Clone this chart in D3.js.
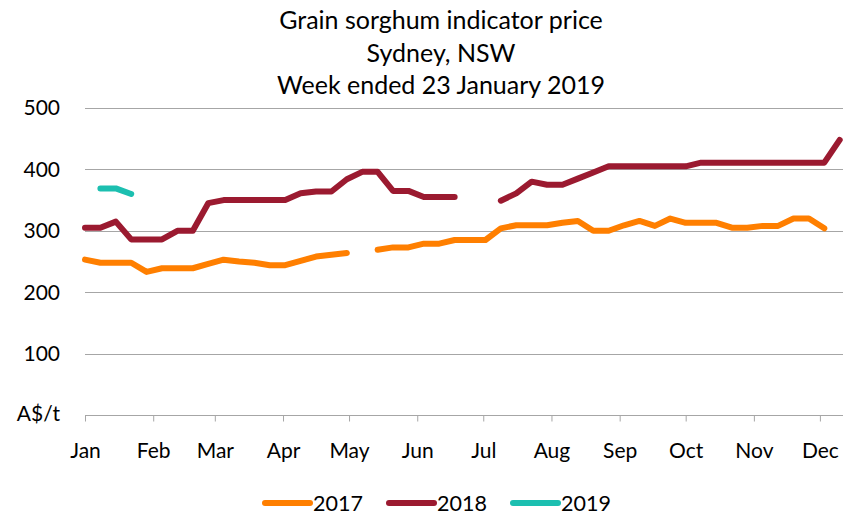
<!DOCTYPE html>
<html>
<head>
<meta charset="utf-8">
<script src="https://cdn.jsdelivr.net/npm/d3@7"></script>
<style>
  body { margin: 0; background: #fff; }
  svg { display: block; font-family: "Lato", "Open Sans", sans-serif; }
</style>
</head>
<body>
<script>
// weekly indicator price, A$/t (null = no quote that week)
const titleLines = ["Grain sorghum indicator price", "Sydney, NSW", "Week ended 23 January 2019"];
const yTicks = [100, 200, 300, 400, 500];
const seriesNames = ["2017", "2018", "2019"];
const colors = ["#ff7f00", "#9b1a30", "#1cbfb0"];

const price2017 = [253, 248, 248, 248, 233, 239, 239, 239, 246, 253,
                   250, 248, 244, 244, 251, 258, 261, 264, null, 269,
                   273, 273, 279, 279, 285, 285, 285, 304, 309, 309,
                   309, 313, 316, 300, 300, 309, 316, 308, 320, 313,
                   313, 313, 305, 305, 308, 308, 320, 320, 304];
const price2018 = [305, 305, 315, 286, 286, 286, 300, 300, 345, 350,
                   350, 350, 350, 350, 361, 364, 364, 384, 396, 396,
                   365, 365, 355, 355, 355, null, null, 349, 361, 380,
                   375, 375, 385, 395, 405, 405, 405, 405, 405, 405,
                   411, 411, 411, 411, 411, 411, 411, 411, 411, 448];
const price2019 = [null, 369, 369, 360];

const w = 843;
const h = 518;

const svg = d3.select("body")
              .append("svg")
              .attr("width", w)
              .attr("height", h);

const start = new Date(2018, 0, 1);
const xScale = d3.scaleTime()
                 .domain([start, new Date(2018, 11, 11, 12)])
                 .range([85, 843]);

const yScale = d3.scaleLinear()
                 .domain([0, 500])
                 .range([415, 108]);

// title
svg.append("g")
   .selectAll("text")
   .data(titleLines)
   .enter()
   .append("text")
   .attr("x", 441)
   .attr("y", (d, i) => 29 + i * 32.5)
   .attr("text-anchor", "middle")
   .attr("font-size", 25)
   .attr("fill", "#000")
   .text((d) => d);

// gridlines
svg.append("g")
   .selectAll("line")
   .data(yTicks)
   .enter()
   .append("line")
   .attr("x1", 85)
   .attr("x2", w)
   .attr("y1", (d) => Math.round(yScale(d)) + 0.5)
   .attr("y2", (d) => Math.round(yScale(d)) + 0.5)
   .attr("stroke", "#a6a6a6")
   .attr("stroke-width", 1);

// y labels
svg.append("g")
   .selectAll("text")
   .data(yTicks)
   .enter()
   .append("text")
   .attr("x", 60)
   .attr("y", (d) => yScale(d))
   .attr("dy", "0.35em")
   .attr("text-anchor", "end")
   .attr("font-size", 21)
   .text((d) => d);

svg.append("text")
   .attr("x", 60)
   .attr("y", yScale(0))
   .attr("dy", "0.3em")
   .attr("text-anchor", "end")
   .attr("font-size", 21)
   .text("A$/t");

// x axis
const xAxis = d3.axisBottom(xScale)
                .ticks(d3.timeMonth.every(1))
                .tickFormat(d3.timeFormat("%b"))
                .tickSize(6)
                .tickPadding(22);

const gx = svg.append("g")
              .attr("id", "x-axis")
              .attr("transform", "translate(0," + (Math.round(yScale(0)) + 0.5) + ")")
              .call(xAxis);
gx.select(".domain").attr("stroke", "#a6a6a6").attr("d", "M85,0H" + w);
gx.selectAll(".tick line").attr("stroke", "#a6a6a6");
gx.selectAll(".tick text")
  .attr("font-size", 21)
  .attr("font-family", "Lato, sans-serif")
  .attr("fill", "#000");

// lines
const dateOf = (i) => d3.timeDay.offset(start, i * 7);
const line = d3.line()
               .defined((d) => d != null)
               .x((d, i) => xScale(dateOf(i)))
               .y((d) => yScale(d));

const allSeries = [price2017, price2018, price2019];
svg.append("g")
   .selectAll("path")
   .data(allSeries)
   .enter()
   .append("path")
   .attr("d", (d) => line(d))
   .attr("fill", "none")
   .attr("stroke", (d, i) => colors[i])
   .attr("stroke-width", 6)
   .attr("stroke-linejoin", "round")
   .attr("stroke-linecap", "round");

// legend
const legendX = [263, 387, 511];
const lg = svg.append("g")
              .selectAll("g")
              .data(seriesNames)
              .enter()
              .append("g")
              .attr("transform", (d, i) => "translate(" + legendX[i] + ",503)");
lg.append("line")
  .attr("x1", 2)
  .attr("x2", 47)
  .attr("stroke", (d, i) => colors[i])
  .attr("stroke-width", 6)
  .attr("stroke-linecap", "round");
lg.append("text")
  .attr("x", 50)
  .attr("dy", "0.35em")
  .attr("font-size", 21.5)
  .text((d) => d);
</script>
</body>
</html>
